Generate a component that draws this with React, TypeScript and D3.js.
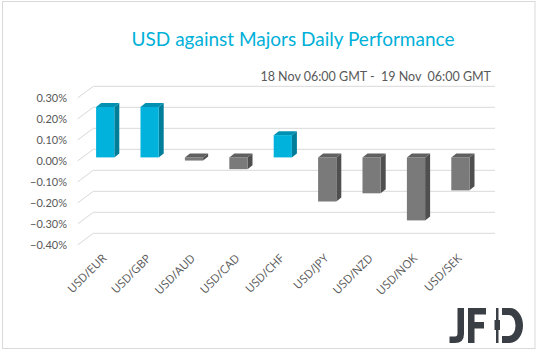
import React from 'react';
import * as d3 from 'd3';

const pairs = ['USD/EUR', 'USD/GBP', 'USD/AUD', 'USD/CAD', 'USD/CHF', 'USD/JPY', 'USD/NZD', 'USD/NOK', 'USD/SEK'];
const changes = [0.24, 0.24, -0.015, -0.056, 0.106, -0.21, -0.171, -0.30, -0.157];
const ticks = [0.3, 0.2, 0.1, 0, -0.1, -0.2, -0.3, -0.4];

const W = 538;
const H = 352;
// 3d depth of the floor / walls and of each bar
const wallDx = 15.6;
const wallDy = -11.6;
const barDx = 5;
const barDy = -4;

const App: React.FC = () => {
  // bars sit in the middle plane
  const x = d3.scaleBand<string>().domain(pairs).range([83, 83 + 44.4 * 9]).paddingInner(0.59).paddingOuter(0.295);
  const yBar = d3.scaleLinear().domain([0, 1]).range([157.4, 157.4 - 210]);
  const yBack = d3.scaleLinear().domain([0, 1]).range([149.3, 149.3 - 210]);

  const frontX = 77.7;
  const backX = frontX + wallDx;
  const rightX = 495;

  return (
    <svg width={W} height={H} style={{ position: 'absolute', left: 0, top: 0, fontFamily: 'Lato, sans-serif' }}>
      <rect x={0} y={0} width={W} height={H} fill="#fff" />
      <rect x={2.5} y={1.5} width={532.5} height={347} fill="none" stroke="#d9d9d9" />

      <text x={293} y={46} textAnchor="middle" fontSize={19} fill="#00B0D8">
        USD against Majors Daily Performance
      </text>
      <text x={491} y={81} textAnchor="end" fontSize={12.5} fill="#595959" style={{ whiteSpace: 'pre' }}>
        18 Nov 06:00 GMT -  19 Nov  06:00 GMT
      </text>

      {/* gridlines with 3d wall edge */}
      <g>
        {ticks.map((t) => {
          const yb = yBack(t);
          return (
            <g key={t}>
              <path
                d={`M${frontX},${yb - wallDy} L${backX},${yb} L${rightX},${yb}`}
                fill="none"
                stroke="#d9d9d9"
                strokeWidth={1}
              />
              <text x={67} y={yb - wallDy + 4} textAnchor="end" fontSize={11} fill="#595959">
                {d3.format('.2f')(t)}%
              </text>
            </g>
          );
        })}
      </g>

      {/* bars */}
      <g>
        {pairs.map((p, i) => {
          const v = changes[i];
          const x0 = x(p)!;
          const bw = x.bandwidth();
          const yTop = yBar(Math.max(v, 0));
          const yBot = yBar(Math.min(v, 0));
          const pos = v >= 0;
          const front = pos ? '#00B2DC' : '#7A7A7A';
          const side = pos ? '#007D99' : '#4F4F4F';
          const top = pos ? '#0091B2' : '#606060';
          return (
            <g key={p}>
              <path
                d={`M${x0 + bw},${yTop} L${x0 + bw + barDx},${yTop + barDy} L${x0 + bw + barDx},${yBot + barDy} L${x0 + bw},${yBot} Z`}
                fill={side}
              />
              <path
                d={`M${x0},${yTop} L${x0 + barDx},${yTop + barDy} L${x0 + bw + barDx},${yTop + barDy} L${x0 + bw},${yTop} Z`}
                fill={top}
              />
              <rect x={x0} y={yTop} width={bw} height={Math.max(yBot - yTop, 0.5)} fill={front} />
            </g>
          );
        })}
      </g>

      {/* category labels */}
      <g>
        {pairs.map((p) => {
          const cx = x(p)! + x.bandwidth() / 2 + 2;
          return (
            <text
              key={p}
              transform={`translate(${cx},${259}) rotate(-45)`}
              textAnchor="end"
              fontSize={11.5}
              fontFamily="'Open Sans', sans-serif"
              fill="#595959"
            >
              {p}
            </text>
          );
        })}
      </g>

      {/* logo */}
      <g fill="#3a3f45">
        <path d="M457.5,308 L464,308 L464,334 Q464,343 455,343 L449.5,343 L449.5,336.5 L455,336.5 Q457.5,336.5 457.5,333.5 Z" />
        <path d="M468,308 L486,308 L486,314.5 L474.5,314.5 L474.5,322 L484,322 L484,328.5 L474.5,328.5 L474.5,343 L468,343 Z" />
        <rect x={496} y={308} width={2.5} height={35} />
        <rect x={494.5} y={320} width={5.5} height={10} />
        <path d="M502,308 L510,308 A13,17.5 0 0 1 510,343 L502,343 L502,336 L509,336 A6.5,10.5 0 0 0 509,315 L502,315 Z" />
      </g>
    </svg>
  );
};

export default App;
